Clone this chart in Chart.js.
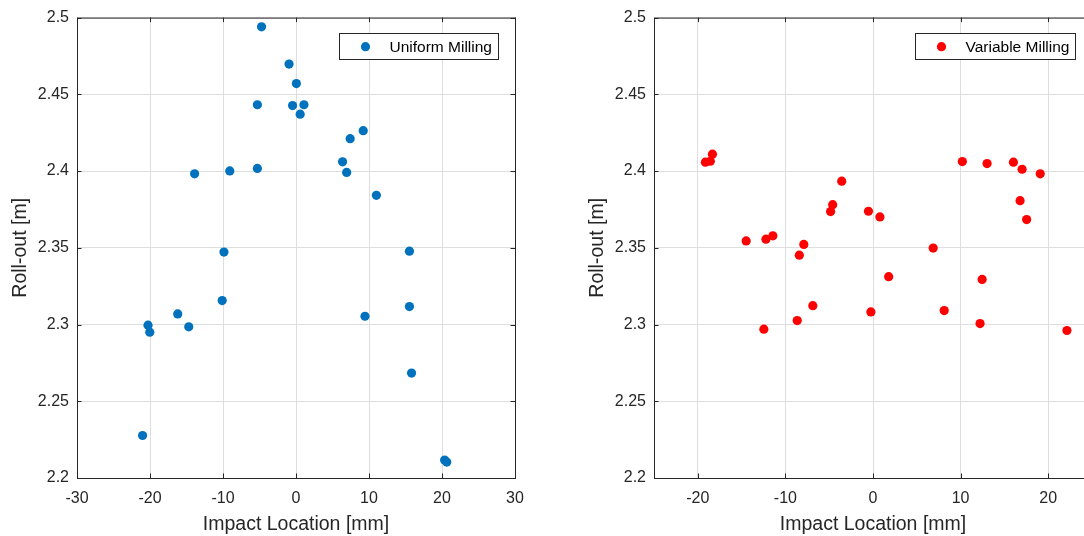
<!DOCTYPE html>
<html><head><meta charset="utf-8">
<script src="https://cdn.jsdelivr.net/npm/chart.js@4/dist/chart.umd.min.js"></script>
<style>
html,body{margin:0;padding:0;background:#fff;overflow:hidden;width:1084px;height:536px;position:relative;}
.wrap{position:absolute;top:0;width:540px;height:536px;}
</style></head><body>
<div class="wrap" style="left:0"><canvas id="c1"></canvas></div>
<div class="wrap" style="left:577px"><canvas id="c2"></canvas></div>
<script>
// ---- data ----
const uniformLabel = 'Uniform Milling';
const uniformX = [-4.72,-0.95,0.05,-5.29,-0.47,1.09,0.57,9.21,7.42,6.38,6.94,-5.29,-9.07,-13.89,11.01,-9.87,15.54,-10.11,-16.2,-20.27,-20.03,-14.69,9.45,15.54,15.83,-21.02,20.36,20.65];
const uniformY = [2.494,2.4697,2.457,2.4432,2.4427,2.4432,2.4371,2.4263,2.4211,2.406,2.3991,2.4017,2.4001,2.3982,2.3842,2.3472,2.3478,2.3156,2.3069,2.2996,2.295,2.2985,2.3054,2.3117,2.2684,2.2277,2.2117,2.2104];

const variableLabel = 'Variable Milling';
const variableX = [-19.13,-18.57,-18.33,-14.48,-12.22,-11.43,-8.41,-7.90,-4.84,-4.60,-3.57,-0.52,0.79,6.87,10.20,13.02,16.03,17.02,19.09,16.79,17.54,1.79,12.46,-6.87,-0.24,8.13,-8.65,-12.46,12.22,22.14];
const variableY = [2.4058,2.4064,2.411,2.3545,2.3556,2.3578,2.3452,2.3522,2.3736,2.3781,2.3934,2.3738,2.3701,2.3498,2.4062,2.4049,2.4058,2.4012,2.3982,2.3807,2.3684,2.3312,2.3294,2.3123,2.3082,2.3091,2.3026,2.297,2.3006,2.2961];

const leftXTicks = [-30,-20,-10,0,10,20,30];
const rightXTicks = [-20,-10,0,10,20];
const yTicks = [2.2,2.25,2.3,2.35,2.4,2.45,2.5];
const yTickLabels = ['2.2','2.25','2.3','2.35','2.4','2.45','2.5'];
const xTitle = 'Impact Location [mm]';
const yTitle = 'Roll-out [m]';

// ---- styling ----
const FONT = '"Liberation Sans", Arial, Helvetica, sans-serif';
const DARK = '#262626';

const framePlugin = {
  id: 'frame',
  afterDatasetsDraw(chart, args, opts) {
    const {ctx, chartArea: a, scales: {x, y}} = chart;
    ctx.save();
    ctx.strokeStyle = DARK;
    ctx.lineWidth = 1;
    ctx.beginPath();
    x.ticks.forEach(t => {
      const px = Math.round(x.getPixelForValue(t.value)) + 0.5;
      ctx.moveTo(px, a.bottom); ctx.lineTo(px, a.bottom - 4.5);
      ctx.moveTo(px, a.top); ctx.lineTo(px, a.top + 4.5);
    });
    y.ticks.forEach(t => {
      const py = Math.round(y.getPixelForValue(t.value)) + 0.5;
      ctx.moveTo(a.left, py); ctx.lineTo(a.left + 4.5, py);
      ctx.moveTo(a.right, py); ctx.lineTo(a.right - 4.5, py);
    });
    ctx.stroke();
    ctx.strokeRect(a.left + 0.5, a.top + 0.5, a.right - a.left, a.bottom - a.top);

    // legend box
    const ds = chart.data.datasets[0];
    ctx.font = '15.5px ' + FONT;
    const tw = ctx.measureText(ds.label).width;
    const bx1 = Math.round(a.right - 17) + 0.5;
    const bx0 = Math.round(bx1 - tw - 57) + 0.5;
    const by0 = 33.5, by1 = 59.5;
    ctx.fillStyle = '#fff';
    ctx.fillRect(bx0, by0, bx1 - bx0, by1 - by0);
    ctx.strokeStyle = DARK;
    ctx.strokeRect(bx0, by0, bx1 - bx0, by1 - by0);
    ctx.fillStyle = ds.backgroundColor;
    ctx.beginPath();
    ctx.arc(bx0 + 26, 46.7, 4.6, 0, Math.PI * 2);
    ctx.fill();
    ctx.fillStyle = '#000';
    ctx.textBaseline = 'middle';
    ctx.textAlign = 'left';
    ctx.fillText(ds.label, bx0 + 50, 47.5);
    ctx.restore();
  }
};

function makeChart(id, label, xs, ys, color, xmin, xmax, xticks) {
  const pts = xs.map((v, i) => ({x: v, y: ys[i]}));
  return new Chart(document.getElementById(id), {
    type: 'scatter',
    data: {datasets: [{label: label, data: pts, backgroundColor: color, borderColor: color,
      pointRadius: 4.6, pointBorderWidth: 0, pointHoverRadius: 4.6}]},
    options: {
      responsive: true, maintainAspectRatio: false, animation: false, events: [],
      layout: {padding: {top: 16, right: 25, left: 0, bottom: 0}},
      plugins: {legend: {display: false}, tooltip: {enabled: false}},
      scales: {
        x: {
          type: 'linear', min: xmin, max: xmax,
          afterBuildTicks: s => { s.ticks = xticks.map(v => ({value: v})); },
          afterFit: s => { s.height = 58; },
          grid: {color: '#dedede', lineWidth: 1, drawTicks: false},
          border: {display: false},
          ticks: {autoSkip: false, maxRotation: 0, padding: 11, color: DARK,
            font: {size: 16, family: FONT}, callback: v => String(v)},
          title: {display: true, text: xTitle, color: DARK, font: {size: 19.5, family: FONT},
            padding: {top: 0, bottom: 0}}
        },
        y: {
          type: 'linear', min: 2.2, max: 2.5,
          afterBuildTicks: s => { s.ticks = yTicks.map(v => ({value: v})); },
          afterFit: s => { s.width = 77; },
          grid: {color: '#dedede', lineWidth: 1, drawTicks: false},
          border: {display: false},
          ticks: {autoSkip: false, padding: 8, color: DARK,
            font: {size: 16, family: FONT}, callback: (v, i) => yTickLabels[i]},
          title: {display: true, text: yTitle, color: DARK, font: {size: 19.5, family: FONT},
            padding: {top: 8.5, bottom: 0}}
        }
      }
    },
    plugins: [framePlugin]
  });
}

makeChart('c1', uniformLabel, uniformX, uniformY, '#0072BD', -30, 30, leftXTicks);
makeChart('c2', variableLabel, variableX, variableY, '#FF0000', -25, 25, rightXTicks);
</script>
</body></html>
